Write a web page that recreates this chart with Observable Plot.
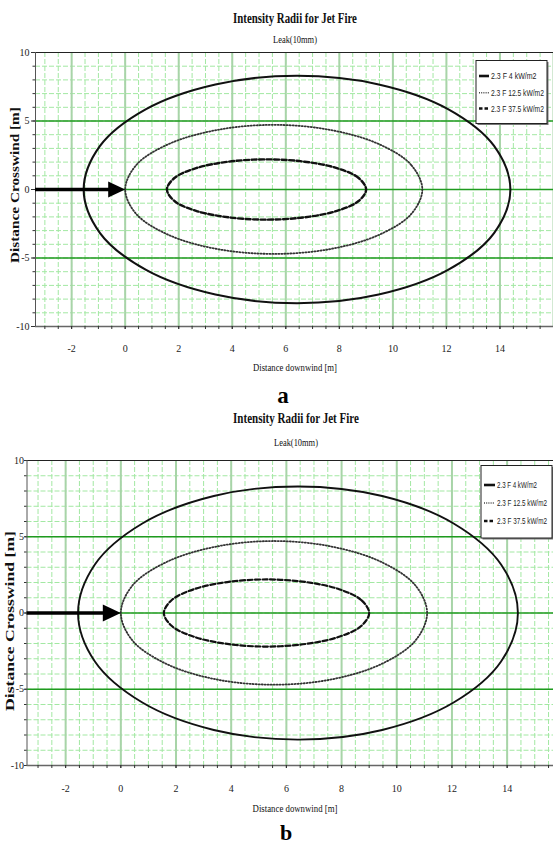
<!DOCTYPE html>
<html><head><meta charset="utf-8">
<script src="https://cdn.jsdelivr.net/npm/d3@7"></script>
<script src="https://cdn.jsdelivr.net/npm/@observablehq/plot@0.6"></script>
<style>
html,body{margin:0;padding:0;background:#fff;}
#root{position:relative;width:553px;height:846px;overflow:hidden;background:#fff;}
#root > svg{position:absolute;left:0;}
</style></head><body><div id="root"></div>
<script>
// ---------- data ----------
const seriesNames = ["2.3 F 4 kW/m2", "2.3 F 12.5 kW/m2", "2.3 F 37.5 kW/m2"];
// 4 kW/m2 contour (solid)
const x4  = [14.39, 13.78, 12.06, 9.47, 6.42, 3.37, 0.78, -0.94, -1.55, -0.94, 0.78, 3.37, 6.42, 9.47, 12.06, 13.78];
const y4  = [0, 3.18, 5.87, 7.67, 8.30, 7.67, 5.87, 3.18, 0, -3.18, -5.87, -7.67, -8.30, -7.67, -5.87, -3.18];
// 12.5 kW/m2 contour (dotted)
const x12 = [11.10, 10.68, 9.47, 7.68, 5.55, 3.42, 1.63, 0.42, 0, 0.42, 1.63, 3.42, 5.55, 7.68, 9.47, 10.68];
const y12 = [0, 1.80, 3.32, 4.34, 4.72, 4.34, 3.32, 1.80, 0, -1.80, -3.32, -4.34, -4.70, -4.34, -3.32, -1.80];
// 37.5 kW/m2 contour (dashed)
const x37 = [9.00, 8.72, 7.91, 6.70, 5.28, 3.86, 2.65, 1.84, 1.56, 1.84, 2.65, 3.86, 5.28, 6.70, 7.91, 8.72];
const y37 = [0, 0.84, 1.56, 2.03, 2.20, 2.03, 1.56, 0.84, 0, -0.84, -1.56, -2.03, -2.20, -2.03, -1.56, -0.84];
const xTicks = [-2, 0, 2, 4, 6, 8, 10, 12, 14];
const yTicks = [-10, -5, 0, 5, 10];
const yGreenLines = [-5, 0, 5];
const releaseX = 0;      // jet release point (arrow tip)
const titleText = "Intensity Radii for Jet Fire";
const subtitleText = "Leak(10mm)";
const xLabel = "Distance downwind [m]";
const yLabel = "Distance Crosswind [m]";

const rows = [];
[[x4, y4], [x12, y12], [x37, y37]].forEach(([xs, ys], k) =>
  xs.forEach((x, i) => rows.push({x, y: ys[i], s: seriesNames[k]})));

const root = document.getElementById("root");

function panel(p) {
  const xMinor = d3.range(-3, p.xmax + 1e-9, 0.5);
  const yMinor = d3.range(-10, 10.5, 1);
  const xGrid = d3.range(-2, p.xmax + 1e-9, 2);
  const tri = {draw(c) { c.moveTo(0, 0); c.lineTo(-p.head, -p.headW); c.lineTo(-p.head, p.headW); c.closePath(); }};
  const sub = (k) => rows.filter(d => d.s === seriesNames[k]);
  const plot = Plot.plot({
    width: 553, height: p.height,
    marginTop: p.mt, marginBottom: p.mb, marginLeft: p.ml, marginRight: 0,
    x: {domain: [p.xmin, p.xmax], label: null},
    y: {domain: [-10, 10], label: null},
    style: {fontFamily: "Liberation Serif", fontSize: "10px", background: "transparent", color: "#222", overflow: "visible"},
    marks: [
      Plot.ruleX(xMinor, {stroke: "#a3e8a3", strokeWidth: 1, strokeDasharray: "5,2"}),
      Plot.ruleY(yMinor, {stroke: "#a3e8a3", strokeWidth: 1, strokeDasharray: "5,2"}),
      Plot.ruleX(xGrid, {stroke: "#a8d4a8", strokeWidth: 2}),
      Plot.ruleY(yGreenLines, {stroke: "#1f9a1f", strokeWidth: 1.4}),
      Plot.ruleY([10], {stroke: "#222", strokeWidth: 1}),
      Plot.ruleY([-10], {stroke: "#666", strokeWidth: 1.3}),
      Plot.ruleX([p.xmin], {stroke: "#555", strokeWidth: 1}),
      Plot.line(sub(0), {x: "x", y: "y", curve: "catmull-rom-closed", stroke: "#111", strokeWidth: p.w4}),
      Plot.line(sub(1), {x: "x", y: "y", curve: "catmull-rom-closed", stroke: "#333", strokeWidth: 1.8, strokeDasharray: "1.1,1.9"}),
      Plot.line(sub(2), {x: "x", y: "y", curve: "catmull-rom-closed", stroke: "#111", strokeWidth: p.w37, strokeDasharray: "5,2.5"}),
      Plot.ruleY([0], {x1: p.xmin, x2: releaseX - 0.3, stroke: "#000", strokeWidth: 3.4}),
      Plot.dot([{x: releaseX, y: 0}], {x: "x", y: "y", symbol: tri, r: 5, fill: "#000", stroke: "none"}),
      // minor ticks (every 1 on y, every 0.5 on x), drawn outside the frame
      Plot.ruleY(yMinor, {x1: p.xmin, x2: p.xmin, insetLeft: -2.5, stroke: "#333", strokeWidth: 1}),
      Plot.ruleX(xMinor, {y1: -10, y2: -10, insetBottom: -3, stroke: "#333", strokeWidth: 1}),
      Plot.axisY(yTicks, {tickSize: p.yts, tickPadding: p.ytp, tickFormat: d => String(d), stroke: "#333", fontSize: 10, label: null}),
      Plot.axisX(xTicks, {tickSize: 3, tickPadding: p.xtp, tickFormat: d => String(d), stroke: "#333", fontSize: 10, label: null})
    ]
  });
  plot.style.top = p.top + "px";
  root.appendChild(plot);
}

panel({top: 45, height: 311, mt: 7, mb: 30, ml: 35, xmin: -3.35, xmax: 16, yts: 4, ytp: 2, xtp: 15, head: 17, headW: 8, w4: 2.1, w37: 2.4});
panel({top: 452, height: 343, mt: 8, mb: 30, ml: 26.5, xmin: -3.4, xmax: 15.68, yts: 2, ytp: 1, xtp: 16, head: 18, headW: 8.5, w4: 1.9, w37: 2.2});

// ---------- overlay texts and legends ----------
const ov = d3.select(root).append("svg")
  .attr("width", 553).attr("height", 846)
  .style("top", "0px").style("pointer-events", "none");

// text placed by a transform, horizontally condensed to the width
function txt(s, o) {
  const t = ov.append("text").text(s)
    .attr("font-family", o.family || "Liberation Serif")
    .attr("font-size", o.size)
    .attr("font-weight", o.weight || "normal")
    .attr("fill", o.fill || "#111")
    .attr("text-anchor", o.anchor || "middle");
  let sc = 1;
  if (o.width) {
    const nat = t.node().getComputedTextLength();
    if (nat > 0) sc = o.width / nat;
  }
  const rot = o.rotate ? ` rotate(${o.rotate})` : "";
  t.attr("transform", `translate(${o.x},${o.y})${rot} scale(${sc},1)`);
  return t;
}

function legend(L) {
  ov.append("rect").attr("x", L.x + 1.5).attr("y", L.y + 1.5).attr("width", L.w).attr("height", L.h).attr("fill", "#777");
  ov.append("rect").attr("x", L.x).attr("y", L.y).attr("width", L.w).attr("height", L.h).attr("fill", "#fff").attr("stroke", "#222").attr("stroke-width", 1);
  const styles = [{w: 2.6, d: null}, {w: 1.6, d: "1,1.2"}, {w: 2.6, d: "3.5,2"}];
  seriesNames.forEach((s, i) => {
    const yy = L.rows[i];
    const ln = ov.append("line").attr("x1", L.lx1).attr("x2", L.lx2).attr("y1", yy).attr("y2", yy)
      .attr("stroke", i === 1 ? "#444" : "#111").attr("stroke-width", styles[i].w);
    if (styles[i].d) ln.attr("stroke-dasharray", styles[i].d);
    txt(s, {x: L.tx, y: yy + 3.2, size: 9.5, family: "Liberation Sans", anchor: "start", fill: "#222", width: L.tw[i]});
  });
}

// panel a
txt(titleText, {x: 295, y: 23, size: 15, weight: "bold", width: 124});
txt(subtitleText, {x: 295, y: 42.5, size: 11, width: 44});
txt(xLabel, {x: 295, y: 371, size: 11, width: 84});
txt(yLabel, {x: 18.5, y: 185, size: 12.5, weight: "bold", rotate: -90, width: 156});
txt("a", {x: 283, y: 403, size: 23, weight: "bold", fill: "#000"});
legend({x: 476, y: 60.5, w: 71, h: 63, rows: [76, 92.7, 108.5], lx1: 479, lx2: 489, tx: 491, tw: [45.5, 53, 53]});

// panel b
txt(titleText, {x: 296, y: 423, size: 15, weight: "bold", width: 126});
txt(subtitleText, {x: 296, y: 446, size: 11, width: 44});
txt(xLabel, {x: 295, y: 812, size: 11, width: 85});
txt(yLabel, {x: 13.5, y: 621, size: 13, weight: "bold", rotate: -90, width: 180});
txt("b", {x: 286, y: 840, size: 22, weight: "bold", fill: "#000"});
legend({x: 481, y: 465.5, w: 71, h: 72.5, rows: [485, 503, 521], lx1: 484, lx2: 495, tx: 497, tw: [40, 50, 50]});
</script>
</body></html>
